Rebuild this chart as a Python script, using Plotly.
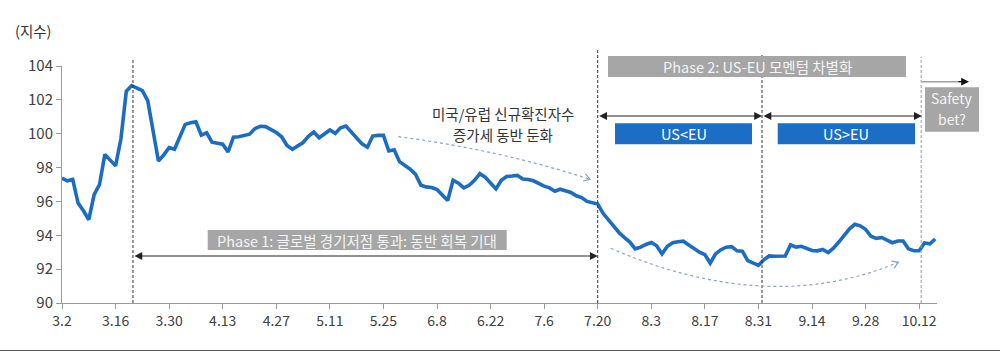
import plotly.graph_objects as go
import pandas as pd
import math

# ---- data ----
start_date = "2020-03-02"
index_values = [
    97.37, 97.22, 97.30, 95.90, 95.45, 94.92, 96.40, 97.00, 98.78, 98.45,
    98.10, 99.70, 102.50, 102.84, 102.70, 102.55, 101.95, 100.10, 98.39, 98.75,
    99.18, 99.08, 99.85, 100.55, 100.65, 100.70, 99.92, 100.05, 99.50, 99.45,
    99.38, 98.92, 99.80, 99.82, 99.88, 99.97, 100.30, 100.44, 100.42, 100.27,
    100.07, 99.82, 99.30, 99.08, 99.27, 99.48, 99.85, 100.10, 99.76, 99.99,
    100.22, 100.02, 100.35, 100.45, 100.10, 99.75, 99.40, 99.20, 99.86, 99.90,
    99.90, 98.98, 99.05, 98.35, 98.15, 97.90, 97.60, 96.95, 96.86, 96.82,
    96.70, 96.35, 96.05, 97.25, 97.08, 96.80, 96.95, 97.25, 97.64, 97.43,
    97.10, 96.74, 97.25, 97.47, 97.50, 97.54, 97.32, 97.30, 97.22, 97.05,
    96.90, 96.80, 96.60, 96.72, 96.63, 96.53, 96.33, 96.23, 96.00, 95.91,
    95.85, 95.30, 94.90, 94.50, 94.15, 93.86, 93.60, 93.20, 93.30, 93.46,
    93.57, 93.38, 92.90, 93.35, 93.56, 93.62, 93.65, 93.43, 93.20, 93.00,
    92.86, 92.35, 92.90, 93.15, 93.30, 93.33, 93.08, 93.06, 92.50, 92.35,
    92.22, 92.55, 92.78, 92.76, 92.75, 92.78, 93.43, 93.30, 93.35, 93.24,
    93.10, 93.08, 93.16, 92.98, 93.24, 93.60, 94.00, 94.38, 94.65, 94.56,
    94.35, 93.94, 93.82, 93.87, 93.72, 93.56, 93.66, 93.66, 93.20, 93.09,
    93.09, 93.55, 93.50, 93.78,
]
dates = pd.bdate_range(start_date, periods=len(index_values))

tick_dates = ["2020-03-02", "2020-03-16", "2020-03-30", "2020-04-13", "2020-04-27",
              "2020-05-11", "2020-05-25", "2020-06-08", "2020-06-22", "2020-07-06",
              "2020-07-20", "2020-08-03", "2020-08-17", "2020-08-31", "2020-09-14",
              "2020-09-28", "2020-10-12"]
tick_labels = ["3.2", "3.16", "3.30", "4.13", "4.27", "5.11", "5.25", "6.8", "6.22",
               "7.6", "7.20", "8.3", "8.17", "8.31", "9.14", "9.28", "10.12"]

phase_marks = ["2020-03-19 06:00", "2020-07-20", "2020-08-31 16:00", "2020-10-12 09:00"]

y_title = "(지수)"
phase1_text = "Phase 1: 글로벌 경기저점 통과: 동반 회복 기대"
phase2_text = "Phase 2: US-EU 모멘텀 차별화"
us_lt_eu = "US&lt;EU"
us_gt_eu = "US&gt;EU"
safety_lines = ["Safety", "bet?"]
note_lines = ["미국/유럽 신규확진자수", "증가세 동반 둔화"]

# ---- layout helpers (pixel -> paper) ----
L, R, T, B = 62, 937, 66, 303
def px(x):
    return (x - L) / (R - L)
def py(y):
    return (B - y) / (B - T)

FONT = "Noto Sans CJK KR"
LINE_BLUE = "#1C6DC1"
BOX_GREY = "#A6A6A6"
BOX_BLUE = "#1C6EC4"
DOT_BLUE = "#8BA3CC"

fig = go.Figure()
fig.add_trace(go.Scatter(x=dates, y=index_values, mode="lines",
                         line=dict(color=LINE_BLUE, width=3.6), hoverinfo="skip"))

shapes = []
# vertical phase lines
tops = [58, 48, 55, 57]
colors = ["#333333", "#333333", "#333333", "#9a9a9a"]
for d, t, c in zip(phase_marks, tops, colors):
    shapes.append(dict(type="line", xref="x", yref="paper", x0=d, x1=d, y0=0, y1=py(t),
                       line=dict(color=c, width=1, dash="3px,2px")))

# boxes
def rect(x0, y0, x1, y1, fill):
    shapes.append(dict(type="rect", xref="paper", yref="paper",
                       x0=px(x0), x1=px(x1), y0=py(y1), y1=py(y0),
                       fillcolor=fill, line=dict(width=0), layer="above"))

rect(207.7, 230, 506.7, 250, BOX_GREY)
rect(608, 56, 906, 77, BOX_GREY)
rect(615, 123.3, 752, 144.3, BOX_BLUE)
rect(777.7, 123.3, 915, 144.3, BOX_BLUE)
rect(925, 87.3, 979, 131.7, BOX_GREY)

# dotted curved arrows
def qpath(p0, c, p1):
    return "M {} {} Q {} {} {} {}".format(px(p0[0]), py(p0[1]), px(c[0]), py(c[1]),
                                           px(p1[0]), py(p1[1]))
shapes.append(dict(type="path", xref="paper", yref="paper",
                   path=qpath((398.3, 136.7), (500, 150), (590, 179.3)),
                   line=dict(color=DOT_BLUE, width=1.2, dash="dot")))
shapes.append(dict(type="path", xref="paper", yref="paper",
                   path=qpath((610.7, 248.3), (768.9, 316.7), (898.3, 262.3)),
                   line=dict(color=DOT_BLUE, width=1.2, dash="dot")))

def chevron(tip, direction, size=7, ang=32):
    dx, dy = direction
    n = math.hypot(dx, dy)
    dx, dy = dx / n, dy / n
    pts = []
    for s in (1, -1):
        a = math.radians(ang) * s
        rx = -(dx * math.cos(a) - dy * math.sin(a)) * size
        ry = -(dx * math.sin(a) + dy * math.cos(a)) * size
        pts.append((tip[0] + rx, tip[1] + ry))
    path = "M {} {} L {} {} L {} {}".format(px(pts[0][0]), py(pts[0][1]),
                                            px(tip[0]), py(tip[1]),
                                            px(pts[1][0]), py(pts[1][1]))
    shapes.append(dict(type="path", xref="paper", yref="paper", path=path,
                       line=dict(color=DOT_BLUE, width=1.3)))

chevron((590, 179.3), (90, 29.3))
chevron((898.3, 262.3), (129.4, -54.4))

# safety bet arrow line (grey) and bottom rule
shapes.append(dict(type="line", xref="paper", yref="paper", x0=px(922), x1=px(962),
                   y0=py(81.7), y1=py(81.7), line=dict(color="#a0a0a0", width=1.5)))
shapes.append(dict(type="line", xref="paper", yref="paper", x0=px(0), x1=px(1000),
                   y0=py(350.5), y1=py(350.5), line=dict(color="#555555", width=1)))

annotations = []
def val_at_px(y):
    return 90 + (B - y) / (B - T) * 14

# double arrows (data refs)
def dbl(x0, x1, ypix):
    yv = val_at_px(ypix)
    annotations.append(dict(x=x1, y=yv, ax=x0, ay=yv, xref="x", yref="y", axref="x", ayref="y",
                            text="", showarrow=True, arrowside="end+start", arrowhead=2,
                            arrowsize=1.3, arrowwidth=1.2, arrowcolor="#222222",
                            standoff=0, startstandoff=0))

dbl(phase_marks[0], phase_marks[1], 256)
dbl(phase_marks[1], phase_marks[2], 116)
dbl(phase_marks[2], "2020-10-12 12:00", 116)

# safety bet arrow head
annotations.append(dict(x=px(969), y=py(81.7), xref="paper", yref="paper", ax=-12, ay=0,
                        axref="pixel", ayref="pixel", text="", showarrow=True, arrowhead=2,
                        arrowsize=1.3, arrowwidth=1.2, arrowcolor="#111111", standoff=0))

def label(x, y, text, color, size=14.5):
    annotations.append(dict(x=px(x), y=py(y), xref="paper", yref="paper", text=text,
                            showarrow=False, font=dict(family=FONT, size=size, color=color),
                            xanchor="center", yanchor="middle"))

label(357.2, 240, phase1_text, "#F4F4F4")
label(757, 66.5, phase2_text, "#F4F4F4")
label(683.5, 133.8, us_lt_eu, "#FFFFFF")
label(846.3, 133.8, us_gt_eu, "#FFFFFF")
label(952, 98, safety_lines[0], "#F4F4F4", 14)
label(952, 118.5, safety_lines[1], "#F4F4F4", 14)
label(502.5, 113, note_lines[0], "#333333")
label(502.5, 134, note_lines[1], "#333333")
label(32.5, 30, y_title, "#333333", 14.5)

fig.update_layout(
    width=1000, height=354,
    margin=dict(l=L, r=1000 - R, t=T, b=354 - B),
    plot_bgcolor="white", paper_bgcolor="white",
    showlegend=False,
    font=dict(family=FONT, size=13, color="#404040"),
    shapes=shapes, annotations=annotations,
    xaxis=dict(
        type="date",
        range=["2020-03-02", "2020-10-15 08:00"],
        rangebreaks=[dict(bounds=["sat", "mon"])],
        tickmode="array", tickvals=tick_dates, ticktext=tick_labels,
        showgrid=False, zeroline=False,
        showline=True, linecolor="#9a9a9a", linewidth=1,
        ticks="outside", ticklen=5, tickcolor="#9a9a9a",
        tickfont=dict(family=FONT, size=14, color="#404040"),
    ),
    yaxis=dict(
        range=[90, 104], tickvals=[90, 92, 94, 96, 98, 100, 102, 104],
        showgrid=False, zeroline=False,
        showline=True, linecolor="#9a9a9a", linewidth=1,
        ticks="outside", ticklen=5, tickcolor="#9a9a9a",
        tickfont=dict(family=FONT, size=15, color="#404040"),
    ),
)

fig.write_html("out.html")
